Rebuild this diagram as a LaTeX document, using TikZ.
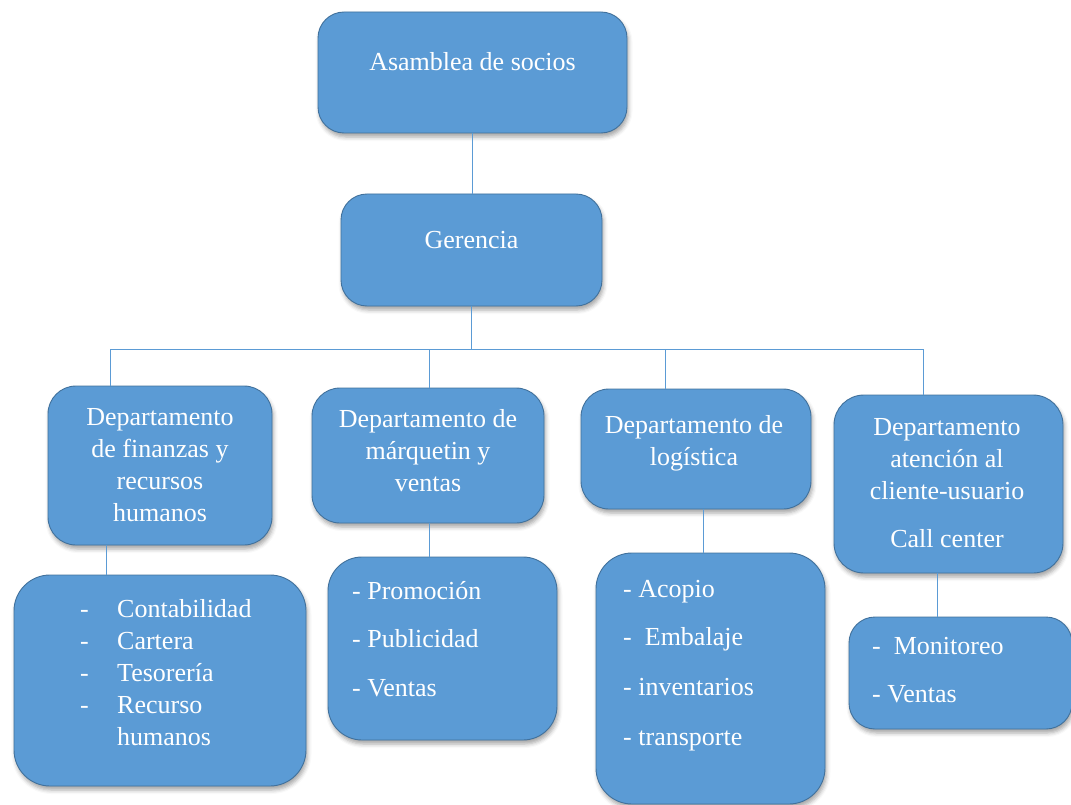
\documentclass[tikz,border=0pt]{standalone}
\usepackage{fontspec}
\setmainfont{Liberation Serif}
\usetikzlibrary{shadows.blur}
\definecolor{boxfill}{HTML}{5B9BD5}
\definecolor{boxedge}{HTML}{41719C}
\definecolor{linkblue}{HTML}{5B9BD5}

\begin{document}
\begin{tikzpicture}[x=1pt,y=-1pt,
  box/.style={rectangle, draw=boxedge, line width=0.9pt, fill=boxfill,
    inner sep=0pt, rounded corners=#1,
    blur shadow={shadow xshift=1.5pt, shadow yshift=-4pt,
      shadow blur radius=4pt, shadow opacity=35}},
  box/.default=26pt,
  txt/.style={text=white, font=\fontsize{26}{32}\selectfont, align=center, inner sep=0pt},
  lst/.style={text=white, font=\fontsize{26}{32}\selectfont, align=left, inner sep=0pt, anchor=north west},
  link/.style={draw=linkblue, line width=1pt}]

\useasboundingbox (0,0) rectangle (1071,805);

% boxes
\node[box, minimum width=309pt, minimum height=121pt] (A) at (472.5,72.5) {};
\node[box, minimum width=261pt, minimum height=112pt] (G) at (471.5,250) {};
\node[box=28pt, minimum width=224pt, minimum height=159pt] (D1) at (160,465.5) {};
\node[box=28pt, minimum width=232pt, minimum height=135pt] (D2) at (428,455.5) {};
\node[box=28pt, minimum width=230pt, minimum height=120pt] (D3) at (696,449) {};
\node[box=30pt, minimum width=229pt, minimum height=178pt] (D4) at (948.5,484) {};
\node[box=36pt, minimum width=292pt, minimum height=211pt] (S1) at (160,680.5) {};
\node[box=34pt, minimum width=229pt, minimum height=183pt] (S2) at (442.5,648.5) {};
\node[box=36pt, minimum width=229pt, minimum height=251pt] (S3) at (710.5,678.5) {};
\node[box=26pt, minimum width=223pt, minimum height=112pt] (S4) at (960.5,673) {};

% connectors
\coordinate (j1) at (110,349);
\coordinate (j2) at (429,349);
\coordinate (j3) at (665,349);
\coordinate (j4) at (923,349);
\coordinate (k1) at (106,0);
\coordinate (k2) at (429,0);
\coordinate (k3) at (703,0);
\coordinate (k4) at (937,0);

\draw[link] (A.south) -- (A.south |- G.north);
\draw[link] (G.south) -- (G.south |- j1);
\draw[link] (j1) -- (j4);
\draw[link] (j1) -- (j1 |- D1.north);
\draw[link] (j2) -- (j2 |- D2.north);
\draw[link] (j3) -- (j3 |- D3.north);
\draw[link] (j4) -- (j4 |- D4.north);
\draw[link] (D1.south -| k1) -- (S1.north -| k1);
\draw[link] (D2.south -| k2) -- (S2.north -| k2);
\draw[link] (D3.south -| k3) -- (S3.north -| k3);
\draw[link] (D4.south -| k4) -- (S4.north -| k4);

% texts
\node[txt] (tA) at (472.5,62) {Asamblea de socios};
\node[txt] (tG) at (471.5,240) {Gerencia};
\node[txt] (tD1) at (160,465) {Departamento\\de finanzas y\\recursos\\humanos};
\node[txt] (tD2) at (428,451) {Departamento de\\márquetin y\\ventas};
\node[txt] (tD3) at (694,443) {Departamento de\\logística};
\node[txt] (tD4) at (947,483) {Departamento\\atención al\\cliente-usuario\\[16pt]Call center};

\node[lst] (tS1) at (80,599) {\makebox[37pt][l]{-}Contabilidad\\
  \makebox[37pt][l]{-}Cartera\\
  \makebox[37pt][l]{-}Tesorería\\
  \makebox[37pt][l]{-}Recurso\\
  \hspace*{37pt}humanos};
\node[lst] (tS2) at (352,581) {- Promoción\\[16pt]- Publicidad\\[17pt]- Ventas};
\node[lst] (tS3) at (623,580) {- Acopio\\[16pt]-\ \ Embalaje\\[18pt]- inventarios\\[18pt]- transporte};
\node[lst] (tS4) at (872,637) {-\ \ Monitoreo\\[16pt]- Ventas};

\end{tikzpicture}
\end{document}
